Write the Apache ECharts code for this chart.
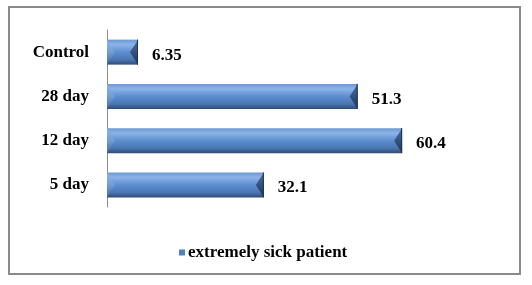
<!DOCTYPE html>
<html>
<head>
<meta charset="utf-8">
<script src="https://cdn.jsdelivr.net/npm/echarts@6/dist/echarts.min.js"></script>
<style>
html,body{margin:0;padding:0;background:#fff;}
#chart{width:532px;height:285px;}
</style>
</head>
<body>
<div id="chart"></div>
<script>
// Data (bottom-to-top category order on the value axis)
const categories = ['5 day', '12 day', '28 day', 'Control'];
const seriesName = 'extremely sick patient';
const values = [32.1, 60.4, 51.3, 6.35];

const FONT = "'Liberation Serif', 'Times New Roman', 'DejaVu Serif', serif";
const barH = 25;
const bevel = 8;

const chart = echarts.init(document.getElementById('chart'), null, {renderer: 'canvas'});

const barGradient = new echarts.graphic.LinearGradient(0, 0, 0, 1, [
  {offset: 0, color: '#6b97d2'},
  {offset: 0.2, color: '#8cb4e7'},
  {offset: 0.5, color: '#5d8ed0'},
  {offset: 0.8, color: '#4a77b2'},
  {offset: 1, color: '#2f4c76'}
]);

const option = {
  animation: false,
  backgroundColor: '#ffffff',
  textStyle: {fontFamily: FONT},
  grid: {left: 107, top: 30, width: 342, height: 177, containLabel: false},
  xAxis: {
    type: 'value', min: 0, max: 70, show: false
  },
  yAxis: {
    type: 'category',
    data: categories,
    axisLine: {show: true, lineStyle: {color: '#8c8c8c', width: 1}},
    axisTick: {show: false},
    axisLabel: {
      margin: 18, color: '#000', fontFamily: FONT, fontWeight: 'bold', fontSize: 17
    }
  },
  legend: {
    data: [seriesName],
    left: 174, top: 239,
    icon: 'rect', itemWidth: 6, itemHeight: 6,
    itemStyle: {color: '#4f81bd'},
    textStyle: {color: '#000', fontFamily: FONT, fontWeight: 'bold', fontSize: 17, padding: [0, 0, 0, -2]}
  },
  graphic: [{
    type: 'rect', silent: true,
    shape: {x: 9, y: 7, width: 511, height: 267},
    style: {fill: 'none', stroke: '#8a8a8a', lineWidth: 2}
  }],
  series: [{
    name: seriesName,
    type: 'bar',
    data: values,
    barWidth: barH,
    itemStyle: {color: barGradient},
    label: {
      show: true, position: 'right', distance: 14, offset: [0, 3],
      color: '#000', fontFamily: FONT, fontWeight: 'bold', fontSize: 17
    },
    z: 2
  }, {
    name: 'bevel',
    type: 'custom',
    data: values.map((v, i) => [v, i]),
    encode: {x: 0, y: 1},
    z: 3,
    silent: true,
    renderItem: function (params, api) {
      const v = api.value(0), c = api.value(1);
      const s = api.coord([0, c]);
      const e = api.coord([v, c]);
      const x0 = s[0], x1 = e[0], yc = s[1];
      const y0 = yc - barH / 2, y1 = yc + barH / 2;
      const b = Math.min(bevel, (x1 - x0) / 2.5);
      return {
        type: 'group',
        children: [
          {type: 'polygon', shape: {points: [[x0, y0], [x0 + b, yc], [x0, y1]]},
           style: {fill: new echarts.graphic.LinearGradient(0, 0, 0, 1, [
             {offset: 0, color: '#8fb5e6'}, {offset: 0.5, color: '#719ed8'}, {offset: 1, color: '#44699c'}])}},
          {type: 'polygon', shape: {points: [[x1, y0], [x1 - b, yc], [x1, y1]]},
           style: {fill: new echarts.graphic.LinearGradient(0, 0, 0, 1, [
             {offset: 0, color: '#4a6fa3'}, {offset: 0.5, color: '#34527e'}, {offset: 1, color: '#1f3557'}])}},
          {type: 'line', shape: {x1: x1 - 0.5, y1: y0, x2: x1 - 0.5, y2: y1},
           style: {stroke: '#1e3252', lineWidth: 1}}
        ]
      };
    }
  }]
};
chart.setOption(option);
</script>
</body>
</html>
